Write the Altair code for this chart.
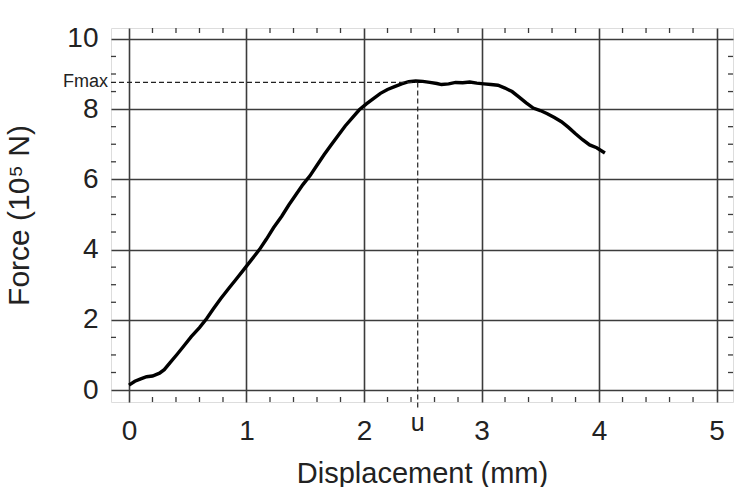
import altair as alt
import pandas as pd

# ---- data ----
disp = [0.00, 0.05, 0.10, 0.15, 0.20, 0.26, 0.30, 0.35, 0.41, 0.47, 0.53, 0.60,
        0.66, 0.72, 0.78, 0.85, 0.91, 0.97, 1.04, 1.11, 1.17, 1.23, 1.30, 1.36,
        1.42, 1.48, 1.54, 1.60, 1.66, 1.72, 1.78, 1.84, 1.90, 1.96, 2.02, 2.08,
        2.14, 2.20, 2.26, 2.32, 2.38, 2.44, 2.50, 2.56, 2.62, 2.66, 2.72, 2.78,
        2.84, 2.90, 2.96, 3.02, 3.08, 3.14, 3.20, 3.26, 3.32, 3.38, 3.44, 3.50,
        3.56, 3.62, 3.68, 3.74, 3.80, 3.86, 3.92, 3.98, 4.05]
force = [0.14, 0.25, 0.32, 0.38, 0.40, 0.48, 0.58, 0.78, 1.02, 1.27, 1.52, 1.78,
         2.03, 2.32, 2.60, 2.90, 3.15, 3.40, 3.70, 4.00, 4.30, 4.62, 4.95, 5.27,
         5.56, 5.85, 6.10, 6.40, 6.70, 6.98, 7.25, 7.52, 7.75, 7.98, 8.15, 8.30,
         8.45, 8.56, 8.64, 8.72, 8.78, 8.80, 8.79, 8.76, 8.73, 8.70, 8.72, 8.76,
         8.75, 8.77, 8.74, 8.72, 8.70, 8.68, 8.60, 8.50, 8.34, 8.18, 8.03, 7.96,
         7.87, 7.76, 7.64, 7.48, 7.30, 7.13, 6.98, 6.90, 6.75]

x_ticks = [0, 1, 2, 3, 4, 5]
y_ticks = [0, 2, 4, 6, 8, 10]
x_minor = [0.2, 0.4, 0.6, 0.8, 1.2, 1.4, 1.6, 1.8, 2.2, 2.4, 2.6, 2.8,
           3.2, 3.4, 3.6, 3.8, 4.2, 4.4, 4.6, 4.8]
y_minor = [0.5, 1.0, 1.5, 2.5, 3.0, 3.5, 4.5, 5.0, 5.5, 6.5, 7.0, 7.5,
           8.5, 9.0, 9.5]
x_domain = [-0.153, 5.14]
y_domain = [-0.34, 10.31]
fmax = 8.76
u_x = 2.457
u_low = -0.57
u_label_y = -0.94

W, H = 622, 374
FONT = "Liberation Sans"
GRID = "#3c3c3c"

curve = pd.DataFrame({"d": disp, "f": force})
xs = alt.Scale(domain=x_domain, nice=False, zero=False)
ys = alt.Scale(domain=y_domain, nice=False, zero=False)

xaxis = alt.Axis(values=x_ticks, format="d", grid=True, gridColor=GRID, gridWidth=1.6,
                 ticks=False, domain=False, labelFont=FONT, labelFontSize=28,
                 labelColor="#222", labelPadding=15, title="Displacement (mm)",
                 titleFont=FONT, titleFontSize=29, titleFontWeight="normal",
                 titleColor="#222", titlePadding=14)
yaxis = alt.Axis(values=y_ticks, format="d", grid=True, gridColor=GRID, gridWidth=1.6,
                 ticks=False, domain=False, labelFont=FONT, labelFontSize=28,
                 labelColor="#222", labelPadding=13, title="Force (10⁵ N)",
                 titleFont=FONT, titleFontSize=30, titleFontWeight="normal",
                 titleColor="#222", titlePadding=32)

line = alt.Chart(curve).mark_line(color="black", strokeWidth=3.4).encode(
    x=alt.X("d:Q", scale=xs, axis=xaxis),
    y=alt.Y("f:Q", scale=ys, axis=yaxis),
)

mx = pd.DataFrame({"v": x_minor})
my = pd.DataFrame({"v": y_minor})
tick_style = dict(color=GRID, strokeWidth=1.3)
minor_bottom = alt.Chart(mx).mark_rule(**tick_style).encode(
    x=alt.X("v:Q", scale=xs), y=alt.value(H), y2=alt.value(H - 5))
minor_top = alt.Chart(mx).mark_rule(**tick_style).encode(
    x=alt.X("v:Q", scale=xs), y=alt.value(0), y2=alt.value(5))
minor_left = alt.Chart(my).mark_rule(**tick_style).encode(
    y=alt.Y("v:Q", scale=ys), x=alt.value(0), x2=alt.value(5))
minor_right = alt.Chart(my).mark_rule(**tick_style).encode(
    y=alt.Y("v:Q", scale=ys), x=alt.value(W), x2=alt.value(W - 5))

hdash = alt.Chart(pd.DataFrame({"x": [x_domain[0]], "x2": [u_x], "y": [fmax]})).mark_rule(
    color="#222", strokeWidth=1.2, strokeDash=[5, 3]).encode(
    x=alt.X("x:Q", scale=xs), x2="x2:Q", y=alt.Y("y:Q", scale=ys))
vdash = alt.Chart(pd.DataFrame({"x": [u_x], "y": [fmax], "y2": [u_low]})).mark_rule(
    color="#222", strokeWidth=1.2, strokeDash=[5, 3]).encode(
    x=alt.X("x:Q", scale=xs), y=alt.Y("y:Q", scale=ys), y2="y2:Q")

fmax_lbl = alt.Chart(pd.DataFrame({"x": [x_domain[0]], "y": [fmax], "t": ["Fmax"]})).mark_text(
    align="right", baseline="middle", dx=-3, font=FONT, fontSize=18, color="#222").encode(
    x=alt.X("x:Q", scale=xs), y=alt.Y("y:Q", scale=ys), text="t:N")
u_lbl = alt.Chart(pd.DataFrame({"x": [u_x], "y": [u_label_y], "t": ["u"]})).mark_text(
    align="center", baseline="middle", font=FONT, fontSize=25, color="#222").encode(
    x=alt.X("x:Q", scale=xs), y=alt.Y("y:Q", scale=ys), text="t:N")

chart = alt.layer(
    line, minor_bottom, minor_top, minor_left, minor_right, hdash, vdash, fmax_lbl, u_lbl
).properties(
    width=W, height=H,
    autosize=alt.AutoSizeParams(type="none"),
    padding={"left": 111, "top": 28, "right": 7, "bottom": 85},
).configure_view(stroke=GRID, strokeWidth=1.6).configure(background="white")

chart.save("out.html", embed_options={"renderer": "svg", "actions": False})
